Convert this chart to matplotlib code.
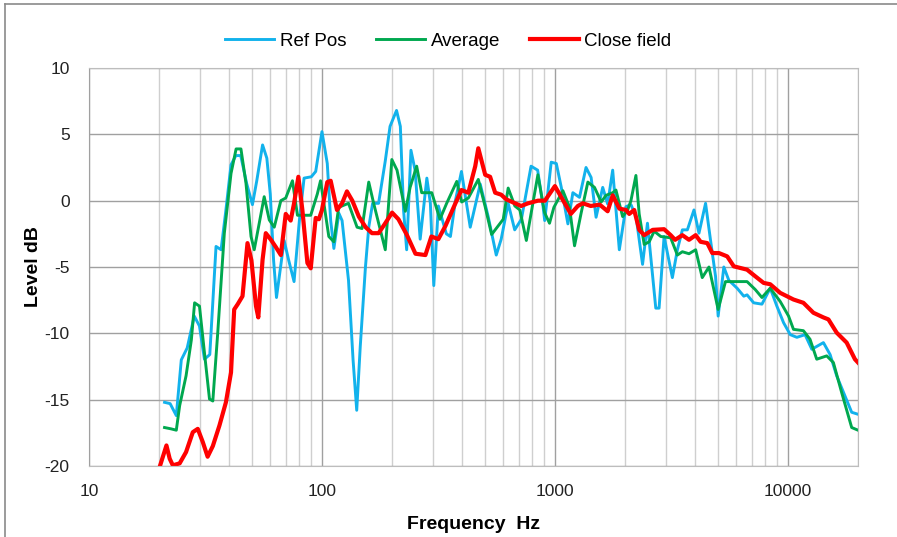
import numpy as np
import matplotlib.pyplot as plt
from matplotlib.lines import Line2D

plt.rcParams['font.family'] = ['Liberation Sans', 'DejaVu Sans']
plt.rcParams['axes.unicode_minus'] = False

# Ref Pos (blue)
ref_freq = [21.1, 22.3, 23.7, 24.9, 26.4, 28.3, 29.8, 31.3, 33.0, 35.1, 36.9, 38.7, 40.7, 42.7,
            44.8, 47.5, 50.3, 52.5, 55.6, 58.0, 60.0, 62.0, 63.8, 68.8, 72.0, 75.9, 80.0, 83.8,
            90.0, 94.0, 100.0, 105.4, 109.0, 112.5, 118.2, 122.0, 130.0, 136.0, 141.0, 146.0,
            153.7, 158.8, 165.0, 175.0, 187.0, 196.0, 209.0, 217.0, 224.0, 231.0, 241.0, 251.0,
            264.0, 282.0, 292.0, 302.0, 316.0, 342.0, 356.0, 374.0, 397.0, 433.0, 478.0, 517.0,
            560.0, 588.0, 630.0, 672.0, 718.0, 790.0, 843.0, 889.0, 904.0, 964.0, 1014.0,
            1065.0, 1137.0, 1194.0, 1275.0, 1360.0, 1430.0, 1502.0, 1604.0, 1684.0, 1770.0,
            1890.0, 2018.0, 2120.0, 2230.0, 2378.0, 2496.0, 2710.0, 2800.0, 2942.0, 3193.0,
            3355.0, 3525.0, 3703.0, 3953.0, 4153.0, 4433.0, 4657.0, 4892.0, 5020.0, 5310.0,
            5578.0, 6056.0, 6467.0, 6680.0, 7132.0, 7740.0, 8400.0, 8970.0, 9585.0, 10240.0,
            10930.0, 11850.0, 12670.0, 14210.0, 15180.0, 16200.0, 18790.0, 20000.0]
ref_db = [-15.2, -15.3, -16.2, -12.0, -11.1, -8.7, -9.45, -11.95, -11.6, -3.45, -3.7, -0.7, 2.7, 3.4,
          3.4, 1.3, -0.3, 1.5, 4.2, 3.2, 0.5, -4.5, -7.3, -3.0, -4.5, -6.1, -1.5, 1.7,
          1.8, 2.2, 5.2, 2.8, -1.5, -3.6, -0.95, -1.5, -6.0, -12.0, -15.8, -11.0,
          -5.0, -2.0, -0.2, -0.2, 3.0, 5.6, 6.8, 5.6, -0.7, -3.7, 3.8, 2.3,
          -2.9, 1.7, -0.2, -6.4, -0.4, -2.5, -2.7, 0.0, 2.2, -2.0, 1.25, -1.2,
          -4.1, -2.9, -0.2, -2.2, -1.4, 2.6, 2.3, -0.4, -1.5, 2.9, 2.8,
          1.0, -1.75, 0.6, 0.25, 2.5, 1.75, -1.25, 1.0, -0.25, 2.3,
          -3.7, -0.45, -0.3, -1.2, -4.8, -1.7, -8.1, -8.1, -2.7, -5.8,
          -3.7, -2.2, -2.2, -0.7, -2.45, -0.2, -3.0, -5.7, -8.7, -5.0,
          -6.0, -6.6, -7.2, -7.1, -7.7, -7.8, -6.6, -7.95, -9.2, -10.1,
          -10.3, -10.1, -11.2, -10.7, -11.6, -13.2, -15.95, -16.1]

# Average (green)
avg_freq = [21.1, 22.5, 23.7, 24.5, 26.1, 27.5, 28.4, 29.8, 31.3, 32.9, 34.0, 35.7, 38.1, 40.7,
            42.8, 44.9, 47.2, 49.6, 51.2, 53.8, 56.5, 59.4, 62.4, 66.6, 69.9, 74.7, 78.5, 89.5,
            95.5, 98.6, 107.0, 112.5, 118.0, 130.0, 141.5, 148.6, 158.8, 166.7, 187.0, 199.5,
            210.0, 228.0, 239.0, 255.0, 268.0, 296.0, 321.0, 343.0, 379.0, 398.0, 425.0, 469.0,
            501.0, 535.0, 600.0, 630.0, 673.0, 707.0, 754.0, 845.0, 903.0, 948.0, 990.0,
            1082.0, 1155.0, 1214.0, 1297.0, 1385.0, 1479.0, 1580.0, 1657.0, 1770.0, 1828.0,
            1953.0, 2052.0, 2120.0, 2227.0, 2300.0, 2417.0, 2540.0, 2668.0, 2846.0, 3140.0,
            3355.0, 3525.0, 3764.0, 4020.0, 4290.0, 4585.0, 5020.0, 5396.0, 6056.0, 6680.0,
            7244.0, 7740.0, 8400.0, 9270.0, 10070.0, 10570.0, 11660.0, 12450.0, 13300.0,
            14680.0, 15680.0, 17010.0, 18790.0, 20000.0]
avg_db = [-17.1, -17.2, -17.3, -15.45, -13.2, -10.5, -7.7, -7.95, -11.45, -14.95, -15.1, -9.95, -2.45, 2.05,
          3.9, 3.9, 1.3, -2.7, -3.7, -1.7, 0.3, -1.45, -2.0, 0.0, 0.2, 1.5, -1.1, -1.1,
          0.5, 1.5, -2.7, -3.1, -0.5, -0.2, -2.0, -2.1, 1.4, -0.2, -3.7, 3.1,
          2.3, -0.8, 1.0, 2.6, 0.6, 0.6, -1.4, -0.2, 1.45, -0.1, 0.2, 1.6,
          -0.4, -2.55, -1.4, 0.95, -0.4, -0.7, -3.0, 1.95, -0.9, -1.7, -0.5,
          0.75, -0.5, -3.4, -0.9, 1.4, 1.0, -0.1, 0.4, 0.6, 0.8,
          -1.2, -0.7, 0.0, 1.9, -1.0, -3.3, -3.1, -2.3, -2.7, -2.8,
          -4.1, -3.85, -4.0, -3.7, -5.8, -5.0, -8.2, -6.1, -6.1, -6.1,
          -6.7, -7.3, -6.6, -7.6, -8.7, -9.7, -9.8, -10.45, -11.95,
          -11.7, -12.2, -14.45, -17.1, -17.3]

# Close field (red)
cf_freq = [20.0, 21.5, 22.2, 22.9, 24.5, 26.1, 27.9, 29.3, 30.8, 32.3, 34.0, 36.3, 38.7, 40.7,
           42.0, 43.5, 45.6, 47.9, 49.8, 52.1, 53.3, 55.6, 57.4, 60.4, 63.4, 66.6, 69.9, 73.4,
           75.9, 79.2, 82.4, 86.6, 89.5, 94.0, 97.0, 100.0, 105.4, 109.0, 116.0, 122.0, 128.0,
           135.0, 144.0, 154.0, 164.0, 175.0, 187.0, 200.0, 213.0, 231.0, 252.0, 278.0, 295.0,
           316.0, 339.0, 374.0, 397.0, 425.0, 455.0, 469.0, 502.0, 527.0, 554.0, 588.0, 618.0,
           675.0, 716.0, 767.0, 846.0, 906.0, 1000.0, 1062.0, 1170.0, 1254.0, 1318.0, 1425.0,
           1557.0, 1684.0, 1770.0, 1890.0, 2018.0, 2085.0, 2190.0, 2300.0, 2417.0, 2630.0,
           2942.0, 3140.0, 3280.0, 3525.0, 3764.0, 4020.0, 4220.0, 4510.0, 4737.0, 5060.0,
           5490.0, 5860.0, 6680.0, 7244.0, 7870.0, 8400.0, 9270.0, 10570.0, 11660.0, 12870.0,
           14210.0, 14930.0, 16200.0, 17880.0, 19400.0, 20000.0]
cf_db = [-20.2, -18.45, -19.45, -19.95, -19.8, -18.95, -17.45, -17.2, -18.2, -19.3, -18.5, -16.95, -15.2, -12.95,
         -8.2, -7.8, -7.2, -3.2, -4.5, -7.95, -8.8, -4.45, -2.45, -2.95, -3.5, -4.1, -1.0, -1.5,
         -0.2, 1.8, -0.7, -4.7, -5.1, -1.3, -1.4, -0.7, 1.4, 1.5, -0.7, -0.2, 0.7,
         0.0, -1.2, -2.0, -2.45, -2.45, -1.7, -0.9, -1.4, -2.55, -4.0, -4.1, -2.7,
         -2.9, -1.9, -0.2, 0.8, 0.6, 2.6, 3.95, 1.95, 1.8, 0.6, 0.45, 0.1,
         -0.2, -0.4, -0.2, 0.0, 0.0, 1.1, 0.3, -1.0, -0.4, -0.2, -0.4,
         -0.3, -0.8, 0.4, -0.6, -0.7, -1.0, -0.7, -2.2, -2.6, -2.2,
         -2.15, -2.6, -2.95, -2.6, -2.95, -2.6, -3.1, -3.2, -3.95, -3.95,
         -4.2, -4.95, -5.2, -5.7, -6.2, -6.3, -6.95, -7.45, -7.7, -8.45,
         -8.8, -8.95, -9.95, -10.7, -11.95, -12.2]

fig = plt.figure(figsize=(8.97, 5.37), dpi=100)
ax = fig.add_axes([89 / 897, 1 - 466 / 537, (858 - 89) / 897, (466 - 68) / 537])

ax.plot(ref_freq, ref_db, color='#12b2ec', lw=2.1, label='Ref Pos', solid_joinstyle='round')
ax.plot(avg_freq, avg_db, color='#00a84f', lw=2.1, label='Average', solid_joinstyle='round')
ax.plot(cf_freq, cf_db, color='#ff0000', lw=3.0, label='Close field', solid_joinstyle='round')

ax.set_xscale('log')
ax.set_xlim(10, 20000)
ax.set_ylim(-20, 10)
ax.set_yticks([-20, -15, -10, -5, 0, 5, 10])
ax.set_xticks([10, 100, 1000, 10000])
ax.set_xticklabels(['10', '100', '1000', '10000'])
ax.xaxis.set_minor_locator(plt.matplotlib.ticker.LogLocator(base=10, subs=np.arange(2, 10)))
ax.xaxis.set_minor_formatter(plt.NullFormatter())

ax.grid(True, which='major', axis='both', color='#a0a0a0', lw=1.0)
ax.grid(True, which='minor', axis='x', color='#cfcfcf', lw=1.0)
ax.set_axisbelow(True)
ax.tick_params(which='both', length=0, labelsize=12.5, colors='#222222')
ax.tick_params(axis='x', pad=13)
ax.tick_params(axis='y', pad=14)

for side in ['left', 'bottom', 'right', 'top']:
    ax.spines[side].set_color('#bdbdbd')
ax.spines['left'].set_color('#a0a0a0')

ax.set_xlabel('Frequency  Hz', fontsize=14, fontweight='bold', labelpad=12)
ax.set_ylabel('Level dB', fontsize=14, fontweight='bold', labelpad=2)

fig.legend(loc='center', bbox_to_anchor=(0.5, 1 - 41 / 537), ncol=3, frameon=False,
           fontsize=13.5, handlelength=2.6, columnspacing=1.6, handletextpad=0.3)

# chart border (top and left visible)
fig.add_artist(Line2D([4.5 / 897, 4.5 / 897], [0, 1 - 4 / 537], transform=fig.transFigure,
                      color='#8a8a8a', lw=1.2))
fig.add_artist(Line2D([4.5 / 897, 1], [1 - 4 / 537, 1 - 4 / 537], transform=fig.transFigure,
                      color='#8a8a8a', lw=1.2))

fig.savefig('out.png', dpi=100)
